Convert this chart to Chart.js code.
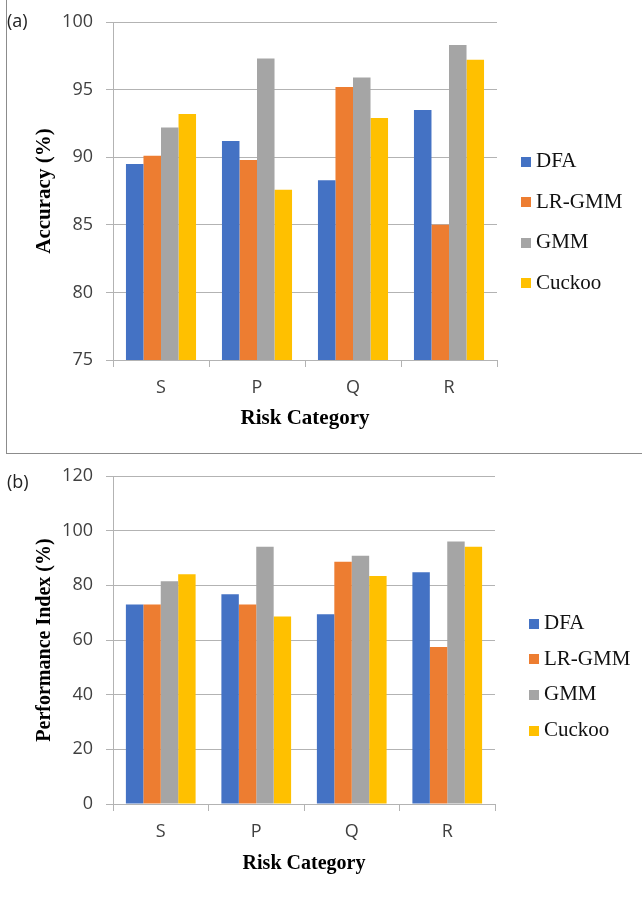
<!DOCTYPE html>
<html>
<head>
<meta charset="utf-8">
<script src="https://cdn.jsdelivr.net/npm/chart.js@4.4.1/dist/chart.umd.min.js"></script>
<style>
  html, body { margin: 0; padding: 0; background: #fff; }
  #page { position: relative; width: 642px; height: 898px; overflow: hidden; }
  .frame { position: absolute; left: 6px; top: -1px; width: 700px; height: 453px; border: 1px solid #8c8c8c; }
  .panel { position: absolute; left: 0; width: 642px; }
  .tag { position: absolute; left: 7px; font: 18px 'Open Sans', sans-serif; line-height: 20px; color: #222; }
</style>
</head>
<body>
<div id="page">
  <div class="frame"></div>
  <div class="panel" style="top:0;height:454px"><canvas id="chartA" width="642" height="454"></canvas></div>
  <div class="panel" style="top:460px;height:438px"><canvas id="chartB" width="642" height="438"></canvas></div>
  <div class="tag" style="top:10px">(a)</div>
  <div class="tag" style="top:471px">(b)</div>
</div>
<script>
// categories and series
const categories = ['S', 'P', 'Q', 'R'];
const seriesNames = ['DFA', 'LR-GMM', 'GMM', 'Cuckoo'];
const seriesColors = ['#4472C4', '#ED7D31', '#A5A5A5', '#FFC000'];

// (a) accuracy (%)
const accDFA = [89.5, 91.2, 88.3, 93.5];
const accLRGMM = [90.1, 89.8, 95.2, 85.0];
const accGMM = [92.2, 97.3, 95.9, 98.3];
const accCuckoo = [93.2, 87.6, 92.9, 97.2];

// (b) performance index (%)
const piDFA = [73.0, 76.7, 69.4, 84.8];
const piLRGMM = [73.0, 73.0, 88.6, 57.4];
const piGMM = [81.5, 94.1, 90.8, 96.0];
const piCuckoo = [84.1, 68.6, 83.4, 94.1];

// y axis ranges
const accAxis = { min: 75, max: 100, step: 5 };
const piAxis = { min: 0, max: 120, step: 20 };

const GRID = '#b3b3b3';
const TICK_FONT = { family: "'Open Sans', sans-serif", size: 18 };

// legend drawn at the right, like the Excel one
const sideLegend = {
  id: 'sideLegend',
  afterDraw(chart, args, opts) {
    const ctx = chart.ctx;
    ctx.save();
    ctx.font = opts.font;
    ctx.textBaseline = 'middle';
    ctx.textAlign = 'left';
    chart.data.datasets.forEach((ds, i) => {
      const y = opts.top + i * opts.spacing;
      ctx.fillStyle = ds.backgroundColor;
      ctx.fillRect(opts.left, Math.round(y - opts.box / 2), opts.box, opts.box);
      ctx.fillStyle = '#111';
      ctx.fillText(ds.label, opts.left + opts.box + opts.gap, y);
    });
    ctx.restore();
  }
};

function makeChart(id, series, axis, cfg) {
  const datasets = series.map((vals, i) => ({
    label: seriesNames[i],
    data: vals,
    backgroundColor: seriesColors[i],
    borderWidth: 0,
    categoryPercentage: 0.73,
    barPercentage: 1
  }));

  return new Chart(document.getElementById(id), {
    type: 'bar',
    data: { labels: categories, datasets: datasets },
    plugins: [sideLegend],
    options: {
      responsive: false,
      animation: false,
      layout: { padding: { top: cfg.top, right: cfg.right, left: 0, bottom: 0 } },
      plugins: {
        legend: { display: false },
        tooltip: { enabled: false },
        sideLegend: cfg.legend
      },
      scales: {
        x: {
          afterFit: s => { s.height = cfg.xHeight; s.paddingLeft = 0; s.paddingRight = 0; },
          grid: { offset: true, drawOnChartArea: false, drawTicks: true, tickLength: 7, color: GRID },
          border: { color: GRID },
          ticks: { font: TICK_FONT, color: '#404040', padding: 10, maxRotation: 0 },
          title: {
            display: true,
            text: 'Risk Category',
            color: '#000',
            font: { family: "'Liberation Serif', serif", size: cfg.titleSize, weight: 'bold' },
            padding: { top: 0, bottom: cfg.xTitlePad }
          }
        },
        y: {
          min: axis.min,
          max: axis.max,
          afterFit: s => { s.width = 113; s.paddingTop = 0; s.paddingBottom = 0; },
          grid: { color: GRID, tickLength: 7 },
          border: { color: GRID },
          ticks: { stepSize: axis.step, font: TICK_FONT, color: '#404040', padding: 13 },
          title: {
            display: true,
            text: cfg.yTitle,
            color: '#000',
            font: { family: "'Liberation Serif', serif", size: cfg.titleSize, weight: 'bold' },
            padding: { top: cfg.yTitlePad, bottom: 0 }
          }
        }
      }
    }
  });
}

makeChart('chartA', [accDFA, accLRGMM, accGMM, accCuckoo], accAxis, {
  top: 22, right: 145, xHeight: 94, titleSize: 21, xTitlePad: 23, yTitlePad: 32,
  yTitle: 'Accuracy (%)',
  legend: { left: 521, top: 161.5, spacing: 40.5, box: 10, gap: 5, font: "21px 'Liberation Serif', serif" }
});

makeChart('chartB', [piDFA, piLRGMM, piGMM, piCuckoo], piAxis, {
  top: 16, right: 147, xHeight: 94, titleSize: 20, xTitlePad: 22, yTitlePad: 33,
  yTitle: 'Performance Index (%)',
  legend: { left: 529, top: 163.5, spacing: 35.7, box: 10, gap: 5, font: "21px 'Liberation Serif', serif" }
});
</script>
</body>
</html>
